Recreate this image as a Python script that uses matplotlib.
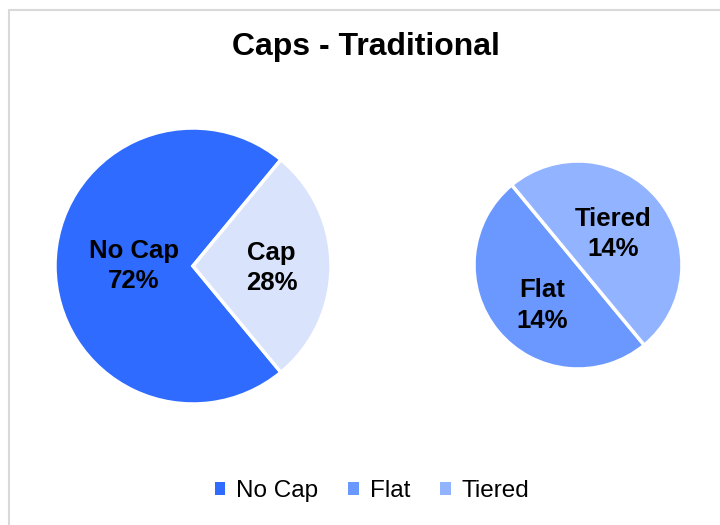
"""Pie-of-pie chart: traditional caps split."""

import numpy as np
import matplotlib
matplotlib.use("Agg")
import matplotlib.pyplot as plt
from matplotlib.patches import Patch

plt.rcParams["font.family"] = ["Liberation Sans", "DejaVu Sans"]

# data
main_labels = ["No Cap", "Cap"]
main_values = [72, 28]
main_colors = ["#2f6bff", "#dae3fc"]

sub_labels = ["Flat", "Tiered"]
sub_values = [14, 14]
sub_colors = ["#6a98ff", "#92b3ff"]

legend_labels = ["No Cap", "Flat", "Tiered"]
legend_colors = [main_colors[0], sub_colors[0], sub_colors[1]]

W, H = 720, 525
fig = plt.figure(figsize=(W / 100, H / 100), dpi=100)
ax = fig.add_axes([0, 0, 1, 1])


def py(y):
    # pixel row (top-down) to data y (bottom-up)
    return H - y


# main pie: "Cap" slice centred on the right
cap_frac = main_values[1] / sum(main_values)
start_main = cap_frac * 180
c1, r1 = (193, py(266)), 138
ax.pie(main_values, colors=main_colors, startangle=start_main,
       center=c1, radius=r1, counterclock=True,
       wedgeprops=dict(edgecolor="white", linewidth=2.5))

# secondary pie
start_sub = 180 - cap_frac * 180
c2, r2 = (578, py(265)), 104
ax.pie(sub_values, colors=sub_colors, startangle=start_sub,
       center=c2, radius=r2, counterclock=True,
       wedgeprops=dict(edgecolor="white", linewidth=2.5))


def put_labels(labels, values, pct_of, start, center, radius, dists, nudge):
    total = sum(values)
    ang = start
    for lab, v, d, dx in zip(labels, values, dists, nudge):
        span = 360 * v / total
        mid = np.deg2rad(ang + span / 2)
        x = center[0] + d * radius * np.cos(mid) + dx[0]
        y = center[1] + d * radius * np.sin(mid) + dx[1]
        ax.text(x, y, f"{lab}\n{round(100 * v / pct_of)}%", ha="center",
                va="center", fontsize=18.5, fontweight="bold",
                linespacing=1.35, color="black")
        ang += span


put_labels(main_labels, main_values, sum(main_values), start_main, c1, r1,
           [0.43, 0.57], [(0, 0), (0, -2)])
put_labels(sub_labels, sub_values, sum(main_values), start_sub, c2, r2,
           [0.52, 0.47], [(6, -6), (-3, 0)])

ax.set_xlim(0, W)
ax.set_ylim(0, H)
ax.set_aspect("auto")
ax.axis("off")

# chart border (cropped on right/bottom)
ax.plot([8, W], [py(9.5), py(9.5)], color="#d9d9d9", lw=1.5,
        solid_capstyle="butt")
ax.plot([8.5, 8.5], [0, py(9.5)], color="#d9d9d9", lw=1.5,
        solid_capstyle="butt")

ax.text(366, py(47), "Caps - Traditional", ha="center", va="center",
        fontsize=23, fontweight="bold")

handles = [Patch(facecolor=c, edgecolor="none") for c in legend_colors]
fig.legend(handles, legend_labels, loc="center",
           bbox_to_anchor=(372 / W, 1 - 491 / H),
           ncol=3, frameon=False, fontsize=17.5, handlelength=0.42,
           handleheight=0.42, handletextpad=0.45, columnspacing=1.25)

fig.savefig("out.png", dpi=100, facecolor="white")
